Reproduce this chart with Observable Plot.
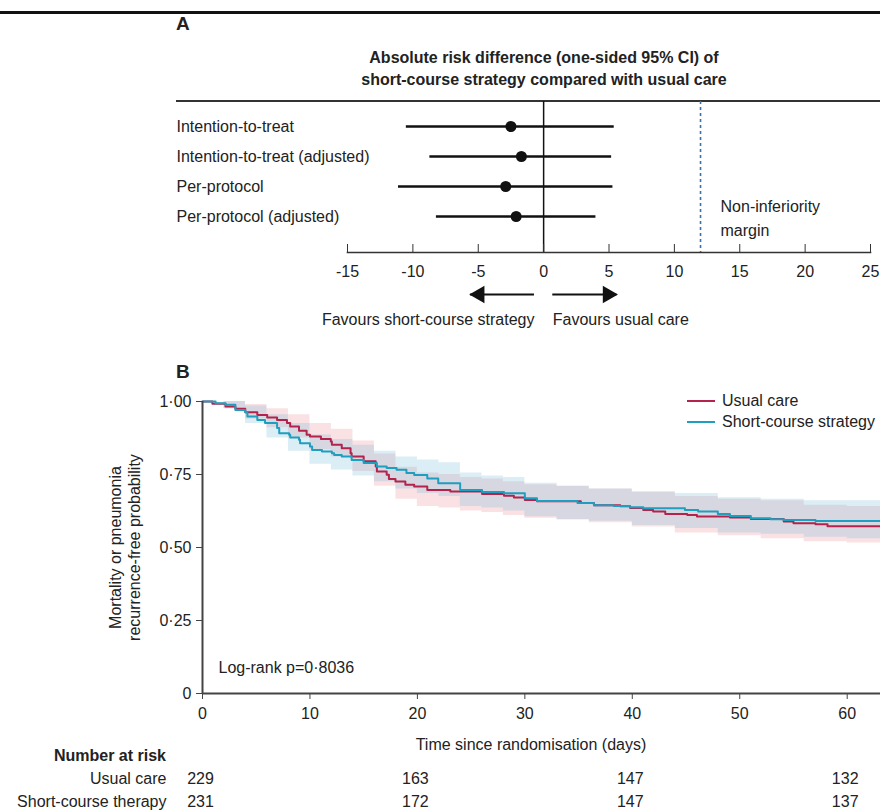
<!DOCTYPE html>
<html><head><meta charset="utf-8">
<script src="https://cdn.jsdelivr.net/npm/d3@7"></script>
<script src="https://cdn.jsdelivr.net/npm/@observablehq/plot@0.6"></script>
<style>
body{margin:0;background:#fff;}
#root{position:relative;width:880px;height:812px;overflow:hidden;background:#fff;color:#222;
 font-family:"Liberation Sans",Arial,sans-serif;}
.abs{position:absolute;white-space:nowrap;}
</style></head><body><div id="root"></div>
<script>
const FF = '"Liberation Sans",Arial,sans-serif';
const FS = 16;

// ---------- Panel A data ----------
const analyses = ["Intention-to-treat", "Intention-to-treat (adjusted)", "Per-protocol", "Per-protocol (adjusted)"];
const estimate = [-2.5, -1.7, -2.9, -2.1];
const ciLower = [-10.5, -8.7, -11.1, -8.2];
const ciUpper = [5.4, 5.2, 5.3, 4.0];
const nonInferiorityMargin = 12;
const riskDiffTicks = [-15, -10, -5, 0, 5, 10, 15, 20, 25];
const favourLabels = ["Favours short-course strategy", "Favours usual care"];
const arrowFrom = [-0.7, 0.7];
const arrowTo = [-5.6, 5.6];

// ---------- Panel B data (Kaplan-Meier steps) ----------
const ucTime = [0, 0.92, 2.14, 3.06, 3.98, 5.10, 6.02, 6.94, 7.86, 8.16, 8.98, 9.69, 10.0, 11.02, 11.94, 12.04, 12.96, 13.78, 13.88, 15.0, 16.12, 16.23, 17.14, 17.35, 17.96, 18.88, 19.70, 20.92, 23.06, 26.02, 28.06, 28.98, 30.0, 31.13, 35.21, 36.43, 38.88, 39.8, 41.02, 41.94, 43.07, 45.11, 46.02, 49.09, 51.03, 54.09, 55.0, 57.05, 58.17, 63.1];
const ucSurv = [1, 0.992, 0.983, 0.975, 0.963, 0.954, 0.945, 0.937, 0.926, 0.914, 0.900, 0.886, 0.880, 0.872, 0.863, 0.852, 0.840, 0.823, 0.812, 0.795, 0.777, 0.760, 0.749, 0.735, 0.726, 0.715, 0.709, 0.697, 0.692, 0.683, 0.677, 0.671, 0.663, 0.658, 0.652, 0.645, 0.641, 0.635, 0.628, 0.623, 0.615, 0.611, 0.606, 0.603, 0.598, 0.589, 0.583, 0.580, 0.573, 0.573];
const scTime = [0, 1.22, 2.14, 3.06, 3.98, 4.18, 5.10, 5.82, 6.94, 7.14, 8.06, 8.16, 8.98, 9.08, 10.0, 10.2, 11.12, 12.04, 12.25, 12.96, 13.88, 15.0, 16.23, 17.14, 18.06, 18.98, 19.70, 20.92, 21.94, 23.98, 26.02, 28.06, 30.0, 31.13, 34.9, 36.43, 38.27, 39.8, 41.02, 44.9, 46.13, 47.96, 49.09, 51.03, 52.86, 54.09, 57.05, 63.1];
const scSurv = [1, 0.994, 0.989, 0.971, 0.963, 0.949, 0.937, 0.926, 0.909, 0.891, 0.886, 0.877, 0.869, 0.857, 0.846, 0.834, 0.829, 0.823, 0.817, 0.812, 0.800, 0.789, 0.777, 0.772, 0.766, 0.755, 0.748, 0.736, 0.720, 0.697, 0.690, 0.686, 0.669, 0.659, 0.652, 0.645, 0.642, 0.638, 0.634, 0.628, 0.623, 0.615, 0.608, 0.600, 0.597, 0.594, 0.591, 0.591];
// confidence bands
const bandTime = [0, 2, 4, 6, 8, 10, 12, 14, 16, 18, 20, 22, 24, 26, 28, 30, 33, 36, 40, 44, 48, 52, 56, 60, 63.1];
const ucLow  = [1, 0.975, 0.94, 0.91, 0.875, 0.835, 0.81, 0.76, 0.71, 0.665, 0.64, 0.635, 0.625, 0.62, 0.61, 0.60, 0.595, 0.585, 0.57, 0.55, 0.54, 0.53, 0.52, 0.515, 0.515];
const ucHigh = [1, 1.0, 0.99, 0.975, 0.955, 0.925, 0.905, 0.865, 0.82, 0.775, 0.755, 0.75, 0.74, 0.735, 0.725, 0.715, 0.71, 0.70, 0.69, 0.675, 0.665, 0.66, 0.645, 0.64, 0.64];
const scLow  = [1, 0.975, 0.925, 0.875, 0.83, 0.785, 0.765, 0.745, 0.725, 0.70, 0.685, 0.675, 0.64, 0.635, 0.625, 0.605, 0.595, 0.59, 0.575, 0.565, 0.55, 0.545, 0.535, 0.53, 0.53];
const scHigh = [1, 1.0, 0.985, 0.955, 0.925, 0.885, 0.87, 0.85, 0.83, 0.81, 0.80, 0.79, 0.755, 0.745, 0.74, 0.72, 0.71, 0.70, 0.69, 0.685, 0.67, 0.665, 0.66, 0.66, 0.66];
const survTicks = [0, 0.25, 0.5, 0.75, 1];
const dayTicks = [0, 10, 20, 30, 40, 50, 60];
const xMaxDays = 63.1;
const groups = ["Usual care", "Short-course strategy"];
const logRankP = "0·8036";

// ---------- Number at risk ----------
const riskGroups = ["Usual care", "Short-course therapy"];
const riskTimes = [0, 20, 40, 60];
const riskUsual = [229, 163, 147, 132];
const riskShort = [231, 172, 147, 137];

const RED = "#b3234b", TEAL = "#1f9fbf";

const root = document.getElementById("root");
function place(node, top, left = 0) {
  const d = document.createElement("div");
  d.className = "abs"; d.style.left = left + "px"; d.style.top = top + "px";
  d.appendChild(node); root.appendChild(d); return d;
}
function html(str, css) {
  const d = document.createElement("div");
  d.className = "abs"; d.style.cssText += css; d.innerHTML = str; root.appendChild(d); return d;
}
const baseStyle = {fontFamily: FF, fontSize: FS + "px", color: "#222", background: "transparent", overflow: "visible"};

// decorations
html("", "left:0;top:11px;width:880px;height:2.5px;background:#111;");
html("A", `left:176px;top:13px;font-size:19px;font-weight:bold;`);
html("Absolute risk difference (one-sided 95% CI) of<br>short-course strategy compared with usual care",
  `left:244px;width:600px;top:47px;text-align:center;line-height:22px;font-size:${FS}px;font-weight:bold;`);
html("", "left:176px;top:100px;width:704px;height:2px;background:#333;");

// ---------- Panel A ----------
const forest = analyses.map((a, i) => ({analysis: a, est: estimate[i], lo: ciLower[i], hi: ciUpper[i]}));
const plotA = Plot.plot({
  width: 880, height: 285, marginTop: 101, marginBottom: 33, marginLeft: 347, marginRight: 10,
  style: baseStyle,
  x: {domain: [-15, 25], axis: null},
  y: {type: "point", domain: analyses, range: [125, 216], padding: 0, axis: null},
  marks: [
    Plot.ruleX([0], {stroke: "#111", strokeWidth: 1.5}),
    Plot.ruleX([nonInferiorityMargin], {stroke: "#3d72a8", strokeWidth: 1.6, strokeDasharray: "3,3"}),
    Plot.frame({anchor: "bottom", stroke: "#333", strokeWidth: 1.6}),
    Plot.axisX({ticks: riskDiffTicks, tickSize: -8, tickPadding: 21, tickFormat: d => String(d), stroke: "#333"}),
    Plot.ruleY(forest, {y: "analysis", x1: "lo", x2: "hi", stroke: "#111", strokeWidth: 2.5}),
    Plot.dot(forest, {y: "analysis", x: "est", r: 5.5, fill: "#111"}),
    Plot.text(forest, {y: "analysis", text: "analysis", frameAnchor: "left", textAnchor: "start", dx: -171, fill: "#222"}),
    Plot.text(["Non-inferiority\nmargin"], {x: nonInferiorityMargin, y: () => analyses[3], text: d => d, dx: 20, textAnchor: "start", lineHeight: 1.45, fill: "#222"})
  ]
});
place(plotA, 0);

// arrows
const arrows = favourLabels.map((l, i) => ({label: l, from: arrowFrom[i], to: arrowTo[i]}));
const plotA2 = Plot.plot({
  width: 880, height: 55, marginTop: 0, marginBottom: 0, marginLeft: 347, marginRight: 10,
  style: baseStyle,
  x: {domain: [-15, 25], axis: null},
  y: {type: "point", domain: ["arrow", "label"], range: [14, 39], padding: 0, axis: null},
  marks: [
    Plot.ruleY(arrows, {y: () => "arrow", x1: "from", x2: "to", stroke: "#111", strokeWidth: 2}),
    Plot.dot(arrows.filter(d => d.to < 0), {x: "to", y: () => "arrow", symbol: "triangle", r: 6.5, fill: "#111", rotate: -90, dx: 9}),
    Plot.dot(arrows.filter(d => d.to > 0), {x: "to", y: () => "arrow", symbol: "triangle", r: 6.5, fill: "#111", rotate: 90, dx: -9}),
    Plot.text(arrows.filter(d => d.to < 0), {x: "from", y: () => "label", text: "label", textAnchor: "end", fill: "#222"}),
    Plot.text(arrows.filter(d => d.to > 0), {x: "from", y: () => "label", text: "label", textAnchor: "start", fill: "#222"})
  ]
});
place(plotA2, 280);

// ---------- Panel B ----------
html("B", `left:176px;top:361px;font-size:19px;font-weight:bold;`);
const uc = ucTime.map((t, i) => ({t, s: ucSurv[i], group: groups[0]}));
const sc = scTime.map((t, i) => ({t, s: scSurv[i], group: groups[1]}));
const ucBand = bandTime.map((t, i) => ({t, lo: ucLow[i], hi: ucHigh[i]}));
const scBand = bandTime.map((t, i) => ({t, lo: scLow[i], hi: scHigh[i]}));
const fmt = d => d === 0 ? "0" : d.toFixed(2).replace(".", "·");
const plotB = Plot.plot({
  width: 880, height: 340, marginTop: 21, marginBottom: 27, marginLeft: 202, marginRight: 0,
  style: baseStyle,
  x: {domain: [0, xMaxDays], axis: null},
  y: {domain: [0, 1], axis: null},
  marks: [
    Plot.areaY(ucBand, {x: "t", y1: "lo", y2: "hi", curve: "step-after", fill: "#ec8a96", fillOpacity: 0.26}),
    Plot.areaY(scBand, {x: "t", y1: "lo", y2: "hi", curve: "step-after", fill: "#7dbfdc", fillOpacity: 0.28}),
    Plot.line(uc, {x: "t", y: "s", curve: "step-after", stroke: RED, strokeWidth: 2}),
    Plot.line(sc, {x: "t", y: "s", curve: "step-after", stroke: TEAL, strokeWidth: 2}),
    Plot.ruleX([0], {stroke: "#444", strokeWidth: 2}),
    Plot.ruleY([0], {stroke: "#444", strokeWidth: 2}),
    Plot.axisY({ticks: survTicks, tickSize: 6, tickPadding: 5, tickFormat: fmt, label: null, stroke: "#444"}),
    Plot.axisX({ticks: dayTicks, tickSize: 6, tickPadding: 8, label: null, stroke: "#444"}),
    Plot.text(["Mortality or pneumonia\nrecurrence-free probability"], {text: d => d, frameAnchor: "left", textAnchor: "middle", rotate: -90, dx: -95, lineAnchor: "top", lineHeight: 1.2, fill: "#222"}),
    Plot.text([`Log-rank p=${logRankP}`], {text: d => d, frameAnchor: "bottom-left", textAnchor: "start", dx: 16, dy: -21, fill: "#222"})
  ]
});
place(plotB, 380);

// legend
html(`<div style="display:flex;align-items:center;height:21px"><svg width="41" height="10"><line x1="6" x2="34" y1="5" y2="5" stroke="${RED}" stroke-width="2"/></svg><span>${groups[0]}</span></div>
<div style="display:flex;align-items:center;height:21px"><svg width="41" height="10"><line x1="6" x2="34" y1="5" y2="5" stroke="${TEAL}" stroke-width="2"/></svg><span>${groups[1]}</span></div>`,
  `left:681px;top:390px;font-size:${FS}px;`);

html("Time since randomisation (days)", `left:331px;width:400px;top:734px;text-align:center;font-size:${FS}px;line-height:22px;`);
html("Number at risk", `right:714px;top:745px;text-align:right;font-size:${FS}px;font-weight:bold;line-height:22px;`);

// ---------- Number at risk table ----------
const riskRows = [];
riskTimes.forEach((t, i) => {
  riskRows.push({t, group: riskGroups[0], n: riskUsual[i]});
  riskRows.push({t, group: riskGroups[1], n: riskShort[i]});
});
const plotC = Plot.plot({
  width: 880, height: 47, marginTop: 0, marginBottom: 0, marginLeft: 202, marginRight: 0,
  style: baseStyle,
  x: {domain: [0, xMaxDays], axis: null},
  y: {type: "point", domain: riskGroups, range: [13, 36], padding: 0, axis: null},
  marks: [
    Plot.text(riskRows, {x: "t", y: "group", text: d => String(d.n), dx: -2, fill: "#222"}),
    Plot.axisY({tickSize: 0, tickPadding: 36, label: null})
  ]
});
place(plotC, 765);
</script></body></html>
